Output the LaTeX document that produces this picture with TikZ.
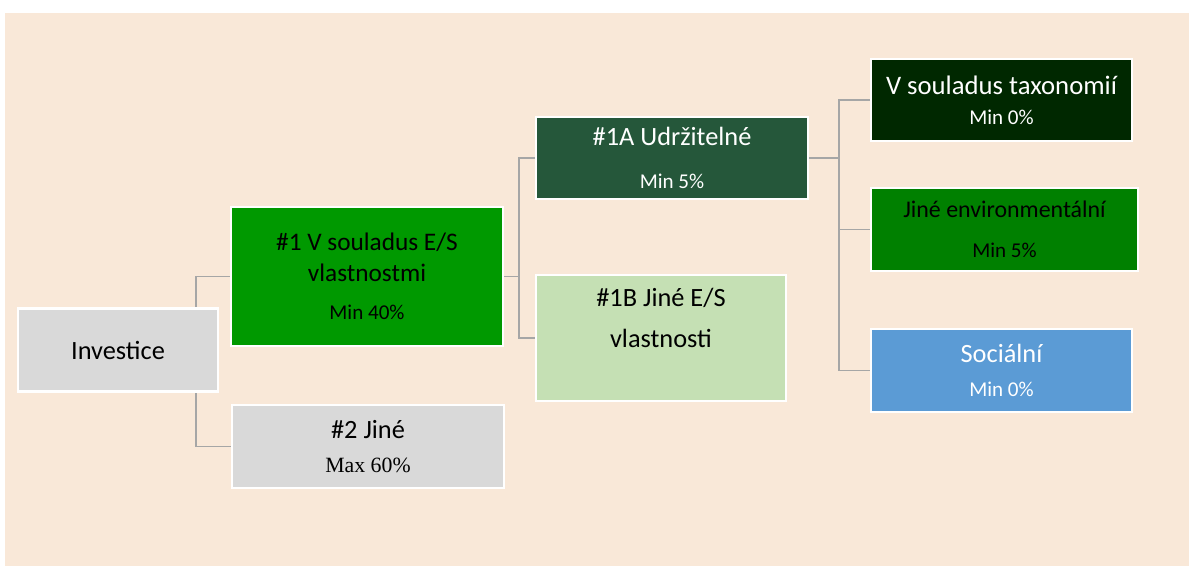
\documentclass[tikz,border=0pt]{standalone}
\usepackage{fontspec}
\setmainfont{Carlito}
\newfontfamily\serifnum{Liberation Serif}
\usetikzlibrary{positioning}

\definecolor{bgbeige}{HTML}{F9E8D8}
\definecolor{boxgray}{HTML}{D9D9D9}
\definecolor{esgreen}{HTML}{009900}
\definecolor{sustgreen}{HTML}{25573A}
\definecolor{othergreen}{HTML}{C5E0B4}
\definecolor{taxgreen}{HTML}{002800}
\definecolor{envgreen}{HTML}{008000}
\definecolor{socblue}{HTML}{5B9BD5}
\definecolor{linkgray}{HTML}{A6A6A6}

\newcommand{\minfont}{\fontsize{12}{14}\selectfont}

\tikzset{
  box/.style={draw=white, line width=1.2pt, align=center, inner sep=2pt,
    font=\fontsize{15}{18}\selectfont},
  link/.style={draw=linkgray, line width=0.8pt}
}

\begin{document}
\begin{tikzpicture}[x=0.02cm, y=-0.02cm]

  \useasboundingbox (0,0) rectangle (1189,566);
  \fill[bgbeige] (5,13) rectangle (1189,566);

  \begin{scope}[every node/.style={box}]
    \node[fill=boxgray, minimum width=4cm, minimum height=1.66cm] (inv) at (118,350) {Investice};
    \node[fill=esgreen, minimum width=5.44cm, minimum height=2.78cm, font=\fontsize{14.4}{17.5}\selectfont] (one) at (367,276.5)
      {\#1 V souladus E/S\\vlastnostmi\\[4pt]{\minfont Min 40\%}};
    \node[fill=boxgray, minimum width=5.44cm, minimum height=1.66cm] (two) at (368,446.5)
      {\#2 Jiné\\[1pt]{\serifnum\fontsize{12.4}{15}\selectfont Max 60\%}};
    \node[fill=sustgreen, text=white, minimum width=5.44cm, minimum height=1.64cm] (oneA) at (672,158)
      {\#1A Udržitelné\\[6pt]{\minfont Min 5\%}};
    \node[fill=othergreen, minimum width=5cm, minimum height=2.52cm] (oneB) at (661,338)
      {\#1B Jiné E/S\\[5pt]vlastnosti\\[5pt]\mbox{}};
    \node[fill=taxgreen, text=white, minimum width=5.22cm, minimum height=1.64cm, font=\fontsize{15.2}{17}\selectfont] (tax) at (1001.5,100)
      {V souladus taxonomií\\{\minfont Min 0\%}};
    \node[fill=envgreen, minimum width=5.34cm, minimum height=1.66cm, font=\fontsize{13.6}{17}\selectfont] (env) at (1004.5,229.5)
      {Jiné environmentální\\[6pt]{\minfont Min 5\%}};
    \node[fill=socblue, text=white, minimum width=5.22cm, minimum height=1.66cm] (soc) at (1001.5,370.5)
      {Sociální\\[1pt]{\minfont Min 0\%}};
  \end{scope}

  \coordinate (invx) at (196,0);
  \draw[link] (one.west) -| (invx |- inv.north);
  \draw[link] (two.west) -| (invx |- inv.south);

  \draw[link] (one.east) -- ++(15,0) |- (oneA.west);
  \draw[link] (one.east) -- ++(15,0) |- (oneB.west);

  \draw[link] (oneA.east) -- ++(30,0) |- (tax.west);
  \draw[link] (oneA.east) -- ++(30,0) |- (env.west);
  \draw[link] (oneA.east) -- ++(30,0) |- (soc.west);

\end{tikzpicture}
\end{document}
